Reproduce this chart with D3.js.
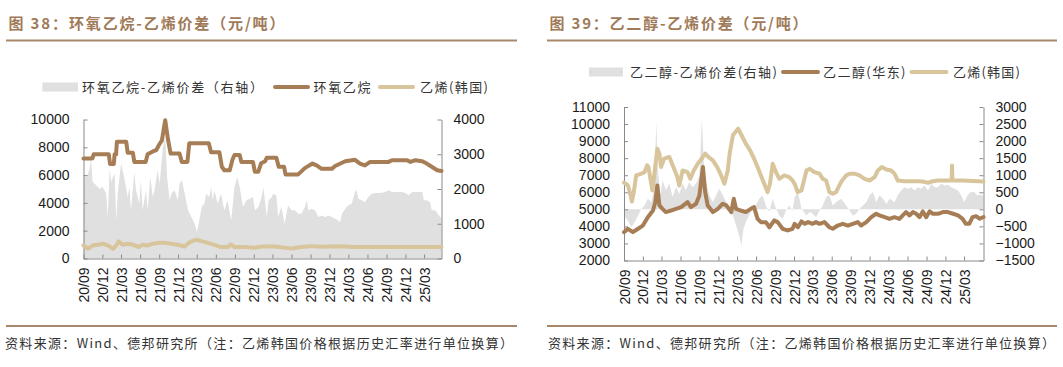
<!DOCTYPE html>
<html><head><meta charset="utf-8">
<script src="https://cdn.jsdelivr.net/npm/d3@7"></script>
<style>
body{margin:0;background:#fff;}
svg text{font-family:"Liberation Sans",Arial,"Noto Sans CJK SC",sans-serif;}
.cjk{font-family:"Noto Sans CJK SC","Noto Sans",sans-serif !important;}
</style></head><body>
<svg id="c" width="1063" height="367"></svg>
<script>
// ---------- DATA ----------
const xTickLabels = ["20/09","20/12","21/03","21/06","21/09","21/12","22/03","22/06","22/09","22/12","23/03","23/06","23/09","23/12","24/03","24/06","24/09","24/12","25/03"];

// Chart 38 : EO - ethylene spread (right axis), EO price, ethylene (Korea)
const eoTicksLeft = [0,2000,4000,6000,8000,10000];
const eoTicksRight = [0,1000,2000,3000,4000];
const eoSpread = [["2020-09-01",2394],["2020-09-14",2346],["2020-09-29",2538],["2020-10-07",2875],["2020-10-15",2202],["2020-11-01",2106],["2020-11-17",2010],["2020-12-03",2058],["2020-12-19",1865],["2020-12-27",1192],["2021-01-05",2587],["2021-01-13",2202],["2021-01-21",2346],["2021-01-29",2442],["2021-02-06",1096],["2021-02-13",1865],["2021-03-01",2731],["2021-03-16",2346],["2021-04-02",1769],["2021-04-10",2058],["2021-04-18",1385],["2021-05-04",2490],["2021-05-12",1962],["2021-05-28",1577],["2021-06-05",2250],["2021-06-13",1385],["2021-06-29",1962],["2021-07-07",1385],["2021-07-20",2346],["2021-08-01",1769],["2021-08-09",1962],["2021-08-25",2538],["2021-09-03",2154],["2021-09-19",3211],["2021-09-30",3500],["2021-10-09",2346],["2021-10-21",1673],["2021-10-29",1865],["2021-11-14",1962],["2021-11-30",1673],["2021-12-08",2154],["2021-12-19",2250],["2022-01-02",1865],["2022-01-18",1385],["2022-02-03",1192],["2022-02-19",1000],["2022-03-02",760],["2022-03-13",1096],["2022-03-25",1481],["2022-04-07",1577],["2022-04-15",1865],["2022-05-01",1769],["2022-05-09",2058],["2022-05-17",1673],["2022-05-25",1962],["2022-06-10",1577],["2022-06-26",1865],["2022-07-12",1385],["2022-07-28",1673],["2022-08-14",1096],["2022-08-30",2058],["2022-09-12",2346],["2022-09-24",2058],["2022-10-10",1481],["2022-10-26",1673],["2022-11-11",1721],["2022-11-27",1769],["2022-12-07",1385],["2022-12-23",1481],["2023-01-08",1769],["2023-01-16",2058],["2023-02-02",1192],["2023-02-10",1673],["2023-02-26",1769],["2023-03-04",1865],["2023-03-20",1817],["2023-03-28",1192],["2023-04-13",1481],["2023-04-29",1000],["2023-05-15",1529],["2023-06-01",1385],["2023-06-17",1385],["2023-07-03",1288],["2023-07-19",1288],["2023-08-04",1481],["2023-08-13",1673],["2023-08-21",1385],["2023-09-06",1433],["2023-09-22",1385],["2023-10-08",1192],["2023-10-24",1240],["2023-11-10",1192],["2023-11-26",1240],["2023-12-12",1192],["2023-12-28",1144],["2024-01-13",1096],["2024-01-21",1048],["2024-01-30",1288],["2024-02-15",1433],["2024-03-01",1529],["2024-03-17",1577],["2024-04-02",1913],["2024-04-10",1962],["2024-04-18",1721],["2024-05-04",1673],["2024-05-20",1625],["2024-06-06",1769],["2024-06-22",1865],["2024-07-08",1885],["2024-07-24",1885],["2024-08-10",1890],["2024-08-26",1913],["2024-09-11",1962],["2024-09-27",1913],["2024-10-13",1913],["2024-10-29",1913],["2024-11-15",1913],["2024-12-01",1885],["2024-12-17",1817],["2025-01-02",1913],["2025-01-18",1913],["2025-02-04",1913],["2025-02-20",1913],["2025-02-28",1673],["2025-03-14",1673],["2025-03-30",1625],["2025-04-07",1385],["2025-04-24",1385],["2025-05-10",1250],["2025-05-24",1150]];
const eoPrice = [["2020-09-01",7200],["2020-10-14",7200],["2020-10-20",7500],["2021-01-01",7500],["2021-01-07",6800],["2021-01-25",6800],["2021-01-29",7500],["2021-02-05",7500],["2021-02-09",8400],["2021-03-26",8400],["2021-04-02",7600],["2021-04-27",7600],["2021-05-04",6950],["2021-06-28",6950],["2021-07-07",7500],["2021-08-01",7700],["2021-08-18",7800],["2021-08-30",8150],["2021-09-14",8500],["2021-09-30",9950],["2021-10-13",8600],["2021-10-26",7550],["2021-12-08",7550],["2021-12-19",6950],["2022-01-15",6950],["2022-01-24",8300],["2022-04-28",8300],["2022-05-09",7650],["2022-06-18",7650],["2022-06-30",6600],["2022-07-12",6350],["2022-08-07",6350],["2022-08-20",7100],["2022-08-30",7450],["2022-09-24",7450],["2022-10-02",6950],["2022-11-27",6950],["2022-12-06",6250],["2022-12-23",6250],["2023-01-05",6850],["2023-01-25",7000],["2023-02-02",7250],["2023-03-20",7250],["2023-03-31",6600],["2023-04-26",6600],["2023-05-03",6050],["2023-07-03",6050],["2023-08-04",6500],["2023-09-10",6830],["2023-09-30",6700],["2023-10-24",6450],["2023-12-12",6450],["2023-12-28",6650],["2024-02-15",7000],["2024-04-02",7100],["2024-04-26",6830],["2024-05-20",6700],["2024-06-14",6950],["2024-09-11",6950],["2024-09-27",7070],["2024-12-09",7070],["2024-12-25",6950],["2025-01-18",7070],["2025-02-20",7000],["2025-03-14",6830],["2025-04-07",6600],["2025-05-03",6350],["2025-05-24",6300]];
const ethKoreaL = [["2020-09-01",940],["2020-09-22",700],["2020-10-15",940],["2020-11-08",985],["2020-12-03",1060],["2020-12-27",940],["2021-01-21",700],["2021-02-06",940],["2021-02-17",1230],["2021-03-10",985],["2021-04-02",1060],["2021-04-29",985],["2021-05-25",820],["2021-06-13",985],["2021-07-07",940],["2021-08-01",1060],["2021-09-03",1130],["2021-09-27",1130],["2021-10-29",1060],["2021-11-30",985],["2022-01-02",865],["2022-01-26",1180],["2022-02-27",1350],["2022-03-22",1250],["2022-04-28",1110],["2022-05-25",985],["2022-06-26",820],["2022-07-28",820],["2022-08-14",1010],["2022-08-30",820],["2022-10-18",820],["2022-12-06",770],["2023-01-08",865],["2023-03-12",865],["2023-04-29",770],["2023-06-01",720],["2023-07-19",820],["2023-09-06",890],["2023-10-24",840],["2023-12-28",890],["2024-02-15",865],["2024-03-17",820],["2025-05-24",820]];

// Chart 39 : EG - ethylene spread (right axis), EG price (East China), ethylene (Korea)
const egTicksLeft = [2000,3000,4000,5000,6000,7000,8000,9000,10000,11000];
const egTicksRight = [-1500,-1000,-500,0,500,1000,1500,2000,2500,3000];
const egSpread = [["2020-09-01",-180],["2020-09-20",-330],["2020-10-06",-520],["2020-10-22",-375],["2020-11-08",-180],["2020-11-24",15],["2020-12-09",115],["2020-12-25",310],["2021-01-11",210],["2021-01-24",600],["2021-02-04",2560],["2021-02-12",1090],["2021-02-24",410],["2021-03-06",850],["2021-03-22",560],["2021-04-08",750],["2021-04-24",360],["2021-05-10",650],["2021-05-26",450],["2021-06-11",760],["2021-06-27",560],["2021-07-13",800],["2021-07-29",650],["2021-08-15",760],["2021-08-31",995],["2021-09-12",2660],["2021-09-21",1385],["2021-10-02",800],["2021-10-18",410],["2021-11-04",210],["2021-11-20",410],["2021-12-06",600],["2021-12-22",410],["2022-01-08",210],["2022-01-24",15],["2022-02-09",-180],["2022-02-24",-470],["2022-03-11",-765],["2022-03-22",-1060],["2022-04-01",-570],["2022-04-12",-375],["2022-04-28",-180],["2022-05-14",15],["2022-05-30",115],["2022-06-16",310],["2022-07-02",410],["2022-07-18",115],["2022-08-04",-80],["2022-08-20",310],["2022-09-05",15],["2022-09-21",-180],["2022-10-07",-280],["2022-10-23",-35],["2022-11-08",115],["2022-11-24",-35],["2022-12-04",360],["2022-12-20",505],["2023-01-06",15],["2023-01-30",-180],["2023-02-15",-80],["2023-03-01",-130],["2023-03-17",-230],["2023-04-03",-35],["2023-04-19",115],["2023-05-05",360],["2023-05-21",410],["2023-06-06",115],["2023-06-22",210],["2023-07-16",310],["2023-08-10",115],["2023-08-26",-35],["2023-09-11",-180],["2023-09-27",-130],["2023-10-13",15],["2023-10-29",115],["2023-11-15",210],["2023-12-01",410],["2023-12-17",505],["2024-01-02",210],["2024-01-18",410],["2024-02-04",310],["2024-02-20",160],["2024-03-06",310],["2024-03-30",210],["2024-04-15",410],["2024-05-01",555],["2024-05-17",650],["2024-06-03",600],["2024-06-19",650],["2024-07-05",555],["2024-07-21",650],["2024-08-06",600],["2024-08-22",700],["2024-09-08",555],["2024-09-24",750],["2024-10-10",650],["2024-10-26",650],["2024-11-11",750],["2024-11-27",700],["2024-12-13",720],["2024-12-29",650],["2025-01-15",600],["2025-01-31",555],["2025-02-15",410],["2025-03-02",210],["2025-03-18",410],["2025-04-03",505],["2025-04-19",505],["2025-05-03",410],["2025-05-18",430],["2025-06-03",400]];
const egPrice = [["2020-09-01",3660],["2020-09-20",3860],["2020-10-14",3660],["2020-11-08",3860],["2020-12-01",4050],["2020-12-25",4540],["2021-01-19",4930],["2021-01-30",5420],["2021-02-09",6400],["2021-02-19",5230],["2021-03-06",5030],["2021-03-22",4840],["2021-04-16",4930],["2021-05-10",5030],["2021-06-04",5130],["2021-07-05",5420],["2021-07-21",5130],["2021-08-15",5330],["2021-08-31",5810],["2021-09-17",7480],["2021-09-28",6010],["2021-10-10",5230],["2021-11-04",4840],["2021-11-28",5030],["2021-12-22",5330],["2022-01-08",5230],["2022-02-01",4840],["2022-02-13",5620],["2022-02-24",5030],["2022-03-19",4930],["2022-04-12",4840],["2022-05-06",5030],["2022-05-22",5130],["2022-06-08",4440],["2022-06-24",4250],["2022-07-18",4250],["2022-08-04",3950],["2022-08-28",4350],["2022-09-13",4250],["2022-10-07",3860],["2022-10-31",3760],["2022-11-24",3860],["2022-12-04",4150],["2022-12-20",3950],["2023-01-06",4290],["2023-01-22",4150],["2023-02-07",4250],["2023-03-01",4150],["2023-03-17",4250],["2023-04-03",4150],["2023-04-27",4250],["2023-05-21",3950],["2023-06-06",3860],["2023-06-30",4050],["2023-07-24",4150],["2023-08-18",4050],["2023-09-11",4150],["2023-10-05",4250],["2023-10-21",4050],["2023-11-15",4250],["2023-12-09",4540],["2024-01-02",4740],["2024-01-18",4640],["2024-02-12",4540],["2024-03-06",4440],["2024-03-30",4540],["2024-04-23",4440],["2024-05-09",4640],["2024-05-25",4840],["2024-06-11",4640],["2024-06-27",4840],["2024-07-13",4740],["2024-07-29",4540],["2024-08-14",4880],["2024-08-30",4540],["2024-09-16",4880],["2024-10-02",4740],["2024-10-26",4740],["2024-11-19",4840],["2024-12-13",4840],["2025-01-07",4740],["2025-01-31",4640],["2025-02-22",4440],["2025-03-10",4150],["2025-03-26",4150],["2025-04-11",4540],["2025-04-28",4600],["2025-05-15",4450],["2025-06-03",4550]];
const ethKoreaR = [["2020-09-01",6560],["2020-09-20",6400],["2020-10-03",5820],["2020-10-09",5460],["2020-10-18",6000],["2020-10-30",6990],["2020-11-24",7090],["2020-12-09",7180],["2020-12-22",7580],["2020-12-28",7480],["2021-01-16",6110],["2021-02-09",8550],["2021-02-19",8260],["2021-02-27",7480],["2021-03-14",7970],["2021-04-08",8070],["2021-04-24",7580],["2021-05-14",6990],["2021-05-26",6400],["2021-06-11",7280],["2021-07-05",7180],["2021-07-18",6790],["2021-08-04",7280],["2021-08-23",7670],["2021-09-17",8070],["2021-09-28",8260],["2021-10-13",8070],["2021-11-04",7870],["2021-11-25",7480],["2021-12-14",6990],["2021-12-30",6500],["2022-01-15",7280],["2022-01-24",8260],["2022-02-09",9340],["2022-03-06",9730],["2022-03-19",9430],["2022-04-12",8850],["2022-05-03",8460],["2022-05-22",7970],["2022-06-08",7480],["2022-06-24",6990],["2022-07-10",6500],["2022-07-26",6010],["2022-08-07",6500],["2022-08-20",7670],["2022-09-05",7180],["2022-09-21",6790],["2022-10-15",6990],["2022-11-08",6890],["2022-11-24",6690],["2022-12-06",6450],["2022-12-18",6010],["2023-01-06",6110],["2023-01-30",7280],["2023-02-15",7380],["2023-03-09",7180],["2023-04-03",7090],["2023-04-19",6790],["2023-05-05",6690],["2023-05-21",6010],["2023-06-06",5910],["2023-06-22",6010],["2023-07-16",6600],["2023-08-10",6990],["2023-08-26",7090],["2023-09-19",7090],["2023-10-13",6990],["2023-11-07",6790],["2023-12-01",6690],["2023-12-25",6890],["2024-01-10",7280],["2024-01-29",7480],["2024-02-20",7340],["2024-03-14",7280],["2024-03-30",7090],["2024-04-15",6690],["2024-05-17",6650],["2024-06-19",6650],["2024-07-21",6650],["2024-08-14",6630],["2024-09-08",6550],["2024-09-24",6630],["2024-10-26",6690],["2024-12-31",6690],["2025-01-02",7570],["2025-01-04",6690],["2025-02-15",6690],["2025-03-18",6670],["2025-06-03",6630]];

// ---------- DRAW ----------
const parse = d3.timeParse("%Y-%m-%d");
const tickDate = l => { const p = l.split("/"); return new Date(2000 + +p[0], +p[1] - 1, 1); };
const svg = d3.select("#c");
const BROWN = "#a67d55", TAN = "#d8c59c", GREY = "#e0e0e0", AX = "#8a8a8a";
const TITLE = "#a07a58", RULE = "#a8876a";

function header(x0, x1, title, tx, tw){
  svg.append("text").attr("class","cjk").attr("x",tx).attr("y",23.5).attr("dy","0.35em")
    .attr("font-size",15).attr("font-weight","bold").attr("fill",TITLE)
    .attr("textLength",tw).attr("lengthAdjust","spacing").text(title);
  svg.append("line").attr("x1",x0).attr("x2",x1).attr("y1",40.5).attr("y2",40.5)
    .attr("stroke",RULE).attr("stroke-width",2);
}
function footer(x0, x1, tx, tw){
  svg.append("line").attr("x1",x0).attr("x2",x1).attr("y1",326).attr("y2",326)
    .attr("stroke",RULE).attr("stroke-width",2);
  svg.append("text").attr("class","cjk").attr("x",tx).attr("y",343.5).attr("dy","0.35em")
    .attr("font-size",13).attr("fill","#333")
    .attr("textLength",tw).attr("lengthAdjust","spacing")
    .text("资料来源：Wind、德邦研究所（注：乙烯韩国价格根据历史汇率进行单位换算）");
}
function legend(items, cy){
  items.forEach(it=>{
    if(it.type==="area"){
      svg.append("rect").attr("x",it.s0).attr("y",cy-4.5).attr("width",it.s1-it.s0).attr("height",9).attr("fill",GREY);
    } else {
      svg.append("line").attr("x1",it.s0+2).attr("x2",it.s1-2).attr("y1",cy).attr("y2",cy)
        .attr("stroke",it.color).attr("stroke-width",4).attr("stroke-linecap","round");
    }
    svg.append("text").attr("class","cjk").attr("x",it.tx).attr("y",cy).attr("dy","0.35em")
      .attr("font-size",13).attr("fill","#333").attr("textLength",it.tw).attr("lengthAdjust","spacing").text(it.label);
  });
}
function panel(c){
  const g = svg.append("g");
  const x = d3.scaleTime().domain([parse("2020-09-01"), parse(c.end)]).range([c.x0, c.x1]);
  const yL = d3.scaleLinear().domain(c.yL).range([c.yB, c.yT]);
  const yR = d3.scaleLinear().domain(c.yR).range([c.yB, c.yT]);
  g.append("path").datum(c.spread)
    .attr("d", d3.area().x(d=>x(parse(d[0]))).y0(yR(0)).y1(d=>yR(d[1])))
    .attr("fill", GREY);
  const styleAxis = sel => {
    sel.select(".domain").attr("stroke",AX);
    sel.selectAll(".tick line").attr("stroke",AX);
    sel.selectAll("text").attr("fill","#1a1a1a").attr("font-size",14).attr("font-family","Liberation Sans, Arial, sans-serif");
  };
  g.append("g").attr("transform",`translate(${c.x0},0)`)
    .call(d3.axisLeft(yL).tickValues(c.tL).tickFormat(d3.format("d")).tickSizeInner(-4).tickSizeOuter(0).tickPadding(14))
    .call(styleAxis);
  g.append("g").attr("transform",`translate(${c.x1},0)`)
    .call(d3.axisRight(yR).tickValues(c.tR).tickFormat(d3.format("d")).tickSizeInner(-4).tickSizeOuter(0).tickPadding(12))
    .call(styleAxis);
  const ax = g.append("g").attr("transform",`translate(0,${c.yB})`)
    .call(d3.axisBottom(x).tickValues(xTickLabels.map(tickDate)).tickFormat((d,i)=>xTickLabels[i]).tickSizeInner(-4).tickSizeOuter(0))
    .call(styleAxis);
  ax.selectAll(".tick text").attr("transform","rotate(-90)").attr("text-anchor","end")
    .attr("x",-9).attr("y",0).attr("dy","0.36em");
  const line = d3.line().x(d=>x(parse(d[0]))).y(d=>yL(d[1])).curve(d3.curveLinear);
  c.lines.forEach(l=>{
    g.append("path").datum(l.data).attr("d",line).attr("fill","none")
      .attr("stroke",l.color).attr("stroke-width",4).attr("stroke-linejoin","round").attr("stroke-linecap","round");
  });
}

header(6, 517, "图 38：环氧乙烷-乙烯价差（元/吨）", 8.5, 276);
header(547, 1057, "图 39：乙二醇-乙烯价差（元/吨）", 549.5, 258);

legend([
  {type:"area", s0:42.4, s1:78, tx:82, tw:181, label:"环氧乙烷-乙烯价差（右轴）"},
  {type:"line", color:BROWN, s0:273, s1:310, tx:313.5, tw:57, label:"环氧乙烷"},
  {type:"line", color:TAN, s0:378, s1:415, tx:420, tw:68, label:"乙烯(韩国)"}
], 87);
legend([
  {type:"area", s0:589, s1:623, tx:630, tw:147, label:"乙二醇-乙烯价差(右轴)"},
  {type:"line", color:BROWN, s0:781, s1:820, tx:823, tw:82.5, label:"乙二醇(华东)"},
  {type:"line", color:TAN, s0:909.5, s1:948.5, tx:953, tw:67, label:"乙烯(韩国)"}
], 72);

panel({x0:83.5, x1:441.5, yB:258.5, yT:119.5, end:"2025-05-24",
  yL:[0,10000], yR:[0,4000], tL:eoTicksLeft, tR:eoTicksRight, spread:eoSpread,
  lines:[{data:ethKoreaL,color:TAN},{data:eoPrice,color:BROWN}]});
panel({x0:624, x1:983.5, yB:260.5, yT:107, end:"2025-06-03",
  yL:[2000,11000], yR:[-1500,3000], tL:egTicksLeft, tR:egTicksRight, spread:egSpread,
  lines:[{data:egPrice,color:BROWN},{data:ethKoreaR,color:TAN}]});

footer(6, 517, 5, 508);
footer(547, 1057, 548, 507);
</script>
</body></html>
